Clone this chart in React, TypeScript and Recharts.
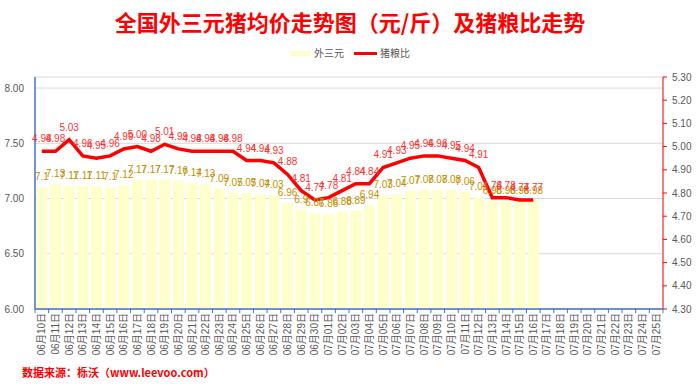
import React from 'react';
import { ComposedChart, Bar, Line, XAxis, YAxis, CartesianGrid, LabelList } from 'recharts';

const categories = [
  '06月10日', '06月11日', '06月12日', '06月13日', '06月14日', '06月15日', '06月16日', '06月17日',
  '06月18日', '06月19日', '06月20日', '06月21日', '06月22日', '06月23日', '06月24日', '06月25日',
  '06月26日', '06月27日', '06月28日', '06月29日', '06月30日', '07月01日', '07月02日', '07月03日',
  '07月04日', '07月05日', '07月06日', '07月07日', '07月08日', '07月09日', '07月10日', '07月11日',
  '07月12日', '07月13日', '07月14日', '07月15日', '07月16日', '07月17日', '07月18日', '07月19日',
  '07月20日', '07月21日', '07月22日', '07月23日', '07月24日', '07月25日',
];

const porkPrice = [
  7.1, 7.13, 7.11, 7.11, 7.11, 7.1, 7.12, 7.17, 7.17, 7.17, 7.16, 7.14, 7.13, 7.09, 7.05, 7.05,
  7.04, 7.03, 6.96, 6.9, 6.87, 6.86, 6.88, 6.89, 6.94, 7.03, 7.04, 7.07, 7.08, 7.08, 7.08, 7.06,
  7.01, 6.98, 6.98, 6.98, 6.98,
];

const pigGrainRatio = [
  4.98, 4.98, 5.03, 4.96, 4.95, 4.96, 4.99, 5.0, 4.98, 5.01, 4.99, 4.98, 4.98, 4.98, 4.98, 4.94,
  4.94, 4.93, 4.88, 4.81, 4.77, 4.78, 4.81, 4.84, 4.84, 4.91, 4.93, 4.95, 4.96, 4.96, 4.95, 4.94,
  4.91, 4.78, 4.78, 4.77, 4.77,
];

const leftTicks = [6, 6.5, 7, 7.5, 8];
const rightTicks = [4.3, 4.4, 4.5, 4.6, 4.7, 4.8, 4.9, 5.0, 5.1, 5.2, 5.3];

const data = categories.map((c, i) => ({
  date: c,
  pork: porkPrice[i],
  ratio: pigGrainRatio[i],
}));

const W = 700;
const H = 389;
const PLOT_LEFT = 35;
const PLOT_RIGHT = 663;
const BAND = (PLOT_RIGHT - PLOT_LEFT) / categories.length;
const FONT = '"Liberation Sans", "Noto Sans CJK SC", sans-serif';

const XTick = (props: any) => {
  const { x, y, payload, index } = props;
  const bx = x - BAND / 2;
  return (
    <g>
      <line x1={bx} y1={y} x2={bx} y2={y + 4} stroke="#4472C4" strokeWidth={1} />
      {index === categories.length - 1 && (
        <line x1={x + BAND / 2} y1={y} x2={x + BAND / 2} y2={y + 4} stroke="#4472C4" strokeWidth={1} />
      )}
      <text
        x={x}
        y={y + 4}
        transform={`rotate(-90, ${x}, ${y + 4})`}
        textAnchor="end"
        dominantBaseline="central"
        fontSize={10}
        fill="#595959"
        fontFamily={FONT}
      >
        {payload.value}
      </text>
    </g>
  );
};

export default function App() {
  return (
    <div style={{ position: 'absolute', left: 0, top: 0, width: W, height: H, background: '#fff' }}>
      <div
        style={{
          position: 'absolute',
          left: 0,
          top: 6,
          width: W,
          textAlign: 'center',
          color: '#FF0000',
          fontWeight: 'bold',
          fontSize: 22,
          fontFamily: '"Noto Sans CJK SC", sans-serif',
          lineHeight: '30px',
          paddingLeft: 0,
        }}
      >
        全国外三元猪均价走势图（元/斤）及猪粮比走势
      </div>
      <div
        style={{
          position: 'absolute',
          left: 0,
          top: 46,
          width: W,
          display: 'flex',
          justifyContent: 'center',
          alignItems: 'center',
          fontSize: 10,
          color: '#595959',
          fontFamily: '"Noto Sans CJK SC", sans-serif',
          lineHeight: '14px',
        }}
      >
        <span style={{ display: 'inline-block', width: 21, height: 5, background: '#FFFFCC', marginRight: 3 }} />
        <span style={{ marginRight: 10 }}>外三元</span>
        <span style={{ display: 'inline-block', width: 23, height: 3, background: '#FF0000', marginRight: 3 }} />
        <span>猪粮比</span>
      </div>
      <ComposedChart
        width={W}
        height={H}
        data={data}
        margin={{ top: 77, right: 0, bottom: 30, left: 0 }}
        barCategoryGap="10%"
      >
        <CartesianGrid yAxisId="left" vertical={false} stroke="#D9D9D9" strokeWidth={1} />
        <XAxis
          dataKey="date"
          interval={0}
          height={50}
          axisLine={{ stroke: '#4472C4', strokeWidth: 1.5 }}
          tickLine={false}
          tickSize={0}
          tickMargin={0}
          tick={<XTick />}
        />
        <YAxis
          yAxisId="left"
          orientation="left"
          width={35}
          domain={[6, 8.1]}
          ticks={leftTicks}
          allowDataOverflow
          tickFormatter={(v: number) => v.toFixed(2)}
          axisLine={{ stroke: '#4472C4', strokeWidth: 1.5 }}
          tickLine={false}
          tickSize={9}
          tickMargin={2}
          tick={{ fontSize: 10, fill: '#595959', fontFamily: FONT }}
        />
        <YAxis
          yAxisId="right"
          orientation="right"
          width={37}
          domain={[4.3, 5.3]}
          ticks={rightTicks}
          allowDataOverflow
          tickFormatter={(v: number) => v.toFixed(2)}
          axisLine={{ stroke: '#FF4D4D', strokeWidth: 1.5 }}
          tickLine={{ stroke: '#FF0000' }}
          tickSize={4}
          tickMargin={5}
          tick={{ fontSize: 10, fill: '#595959', fontFamily: FONT }}
        />
        <Bar yAxisId="left" dataKey="pork" fill="#FFFFCC" isAnimationActive={false}>
          <LabelList
            dataKey="pork"
            position="top"
            offset={7}
            fill="#BF9000"
            fontSize={10}
            fontFamily={FONT}
            formatter={(v: any) => (v == null ? '' : String(v))}
          />
        </Bar>
        <Line
          yAxisId="right"
          type="linear"
          dataKey="ratio"
          stroke="#FF0000"
          strokeWidth={3.5}
          dot={false}
          activeDot={false}
          isAnimationActive={false}
        >
          <LabelList
            dataKey="ratio"
            position="top"
            offset={9}
            fill="#FF3333"
            fontSize={10}
            fontFamily={FONT}
            formatter={(v: any) => (v == null ? '' : Number(v).toFixed(2))}
          />
        </Line>
      </ComposedChart>
      <div
        style={{
          position: 'absolute',
          left: 22,
          top: 364,
          color: '#FF0000',
          fontWeight: 'bold',
          fontSize: 11,
          fontFamily: '"Noto Sans CJK SC", sans-serif',
          lineHeight: '16px',
        }}
      >
        数据来源：栎沃（www.leevoo.com）
      </div>
    </div>
  );
}
